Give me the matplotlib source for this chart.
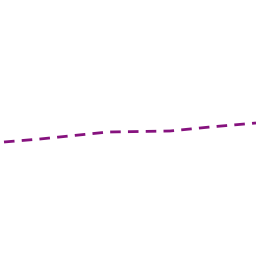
import matplotlib
matplotlib.use('Agg')
import matplotlib.pyplot as plt

# line samples
x_vals = [4, 40, 108, 140, 170, 210, 256]
y_vals = [142, 139, 132, 131.5, 131, 127, 123]

fig = plt.figure(figsize=(2.56, 2.56), dpi=100)
ax = fig.add_axes([0, 0, 1, 1])
ax.plot(x_vals, y_vals, color='#86127e', linewidth=2, linestyle=(0, (3.8, 2.6)))
ax.set_xlim(0, 256)
ax.set_ylim(256, 0)
ax.axis('off')
fig.savefig('out.png', dpi=100, facecolor='white')
